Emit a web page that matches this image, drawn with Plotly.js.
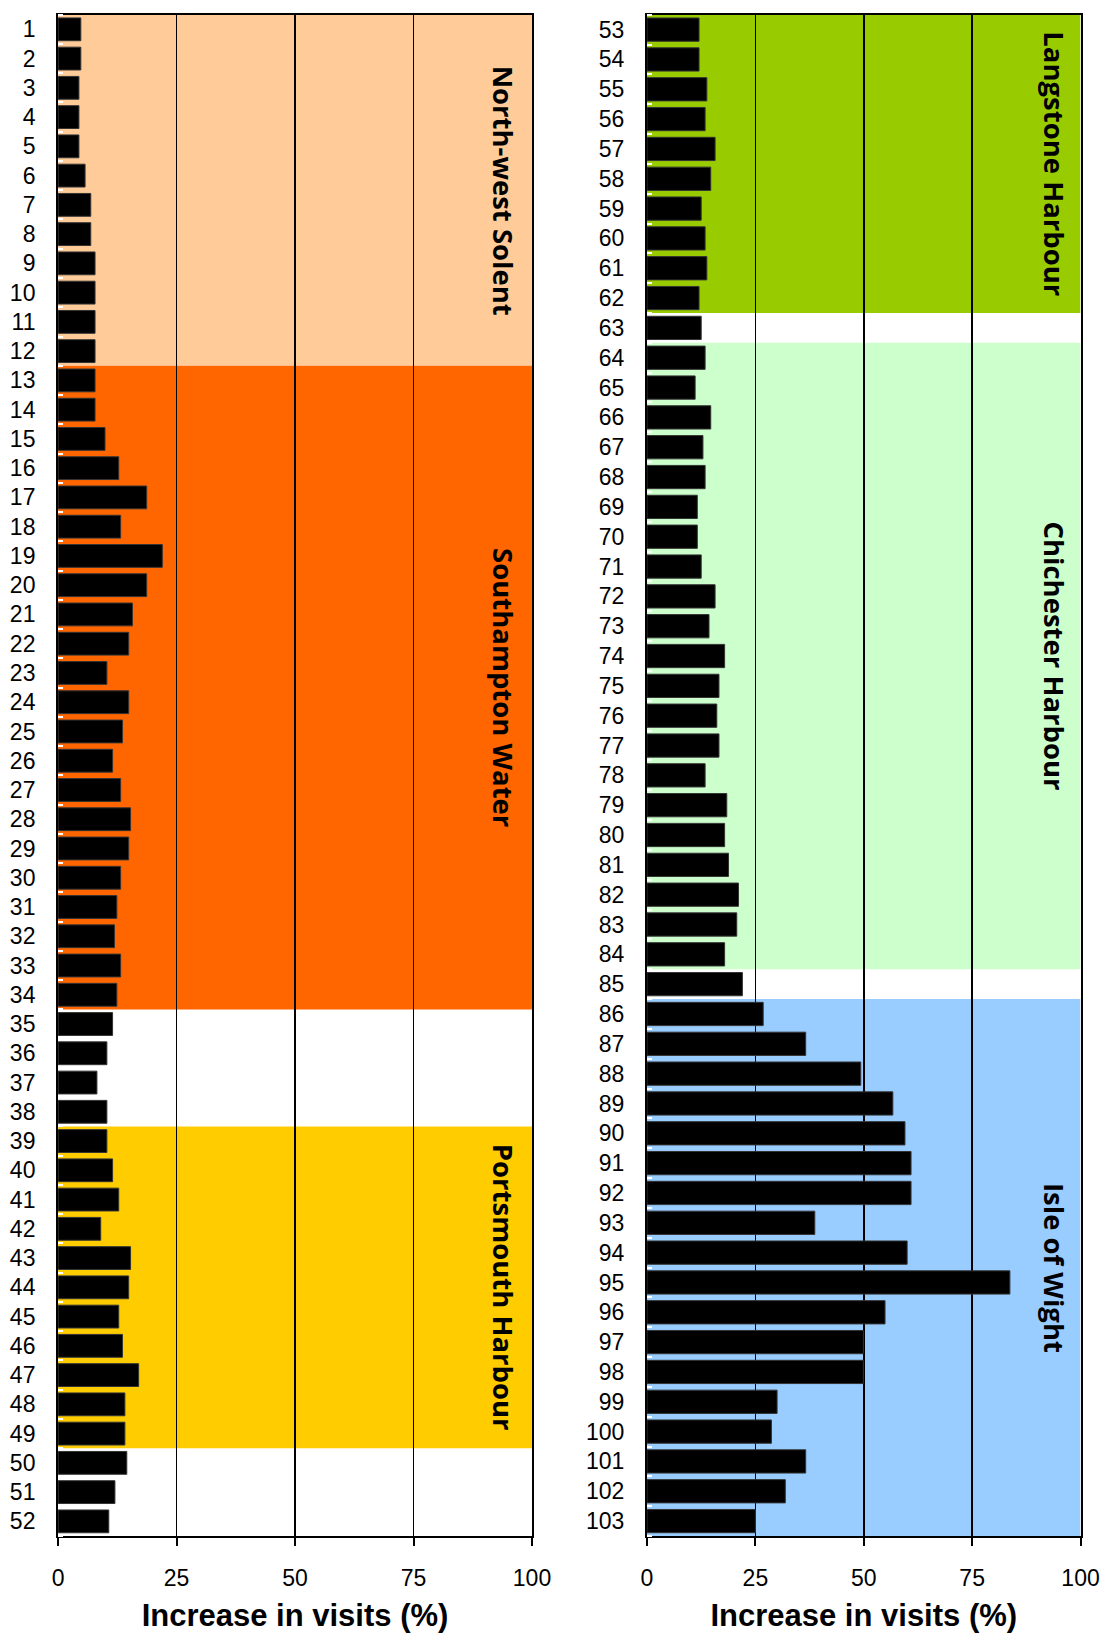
<!DOCTYPE html>
<html><head><meta charset="utf-8">
<script src="https://cdn.plot.ly/plotly-3.0.1.min.js"></script>
<style>html,body{margin:0;padding:0;background:#fff}</style>
</head><body><div id="chart" style="width:1106px;height:1633px"></div>
<script>
// ---- data ----
const leftSites = [1,2,3,4,5,6,7,8,9,10,11,12,13,14,15,16,17,18,19,20,21,22,23,24,25,26,27,28,29,30,31,32,33,34,35,36,37,38,39,40,41,42,43,44,45,46,47,48,49,50,51,52];
const leftValues = [4.8,4.8,4.4,4.4,4.4,5.7,6.9,6.9,7.8,7.8,
  7.8,7.8,7.8,7.8,9.9,12.8,18.7,13.2,22.0,18.7,
  15.7,14.9,10.3,14.9,13.6,11.5,13.2,15.3,14.9,13.2,
  12.4,11.9,13.2,12.4,11.5,10.3,8.2,10.3,10.3,11.5,
  12.8,9.0,15.3,14.9,12.8,13.6,17.0,14.1,14.1,14.5,
  12.0,10.7];
const rightSites = [53,54,55,56,57,58,59,60,61,62,63,64,65,66,67,68,69,70,71,72,73,74,75,76,77,78,79,80,81,82,83,84,85,86,87,88,89,90,91,92,93,94,95,96,97,98,99,100,101,102,103];
const rightValues = [12.0,12.0,13.8,13.4,15.7,14.7,12.5,13.4,13.8,12.0,
  12.5,13.4,11.1,14.7,12.9,13.4,11.6,11.6,12.5,15.7,
  14.3,17.9,16.6,16.1,16.6,13.4,18.4,17.9,18.8,21.1,
  20.7,17.9,22.0,26.8,36.6,49.3,56.7,59.5,60.9,60.9,
  38.7,60.0,83.7,54.9,49.9,49.9,30.0,28.7,36.6,31.9,25.0];
const regionNames = ['North-west Solent','Southampton Water','Portsmouth Harbour','Langstone Harbour','Chichester Harbour','Isle of Wight'];
const regionFirst = [1,13,39,53,64,86];
const regionLast = [12,34,49,62,84,103];
const regionPanel = [1,1,1,2,2,2];
const regionColors = ['#FFCC99','#FF6600','#FFCC00','#99CC00','#CCFFCC','#99CCFF'];
const xTickVals = [0,25,50,75,100];
const xTickText = ['0','25','50','75','100'];
const xTitle = 'Increase in visits (%)';

// ---- chart ----
const tickFont = {family:'Liberation Sans, Arial, sans-serif', size:23, color:'#000'};
const barStyle = {color:'#000', line:{color:'#333', width:1}};

const traces = [
  {type:'bar', orientation:'h', x:leftValues, y:leftSites, marker:barStyle, xaxis:'x', yaxis:'y', hoverinfo:'x+y'},
  {type:'bar', orientation:'h', x:rightValues, y:rightSites, marker:barStyle, xaxis:'x2', yaxis:'y2', hoverinfo:'x+y'}
];

function xAxis(domain, anchor){
  return {domain:domain, anchor:anchor, range:[0,100], tickmode:'array', tickvals:xTickVals, ticktext:xTickText,
    showgrid:true, gridcolor:'#000', gridwidth:1.5, zeroline:false,
    showline:true, mirror:true, linecolor:'#000', linewidth:2,
    ticks:'outside', ticklen:8, tickwidth:2, tickcolor:'#000', ticklabelstandoff:12,
    tickfont:tickFont, automargin:false, fixedrange:true,
    title:{text:xTitle, font:{family:'Liberation Sans, Arial, sans-serif', size:31, color:'#000', weight:'bold'}, standoff:17}};
}
function yAxis(domain, anchor, sites){
  return {domain:domain, anchor:anchor, range:[sites[sites.length-1]+0.5, sites[0]-0.5],
    tickmode:'array', tickvals:sites, ticktext:sites.map(String),
    showgrid:false, zeroline:false, showline:true, mirror:true, linecolor:'#000', linewidth:2,
    ticks:'', ticklabelstandoff:16, tickfont:tickFont, automargin:false, fixedrange:true,
    minor:{ticks:'inside', tickmode:'linear', tick0:0.5, dtick:1, ticklen:5, tickwidth:2, tickcolor:'#fff'}};
}

const yDom = [0.0594, 0.991];
const shapes = [];
const annotations = [];
for (let i = 0; i < regionNames.length; i++) {
  const xr = regionPanel[i] === 1 ? 'x' : 'x2';
  const yr = regionPanel[i] === 1 ? 'y' : 'y2';
  shapes.push({type:'rect', xref:xr, yref:yr, x0:0, x1:100, y0:regionFirst[i]-0.5, y1:regionLast[i]+0.5,
    fillcolor:regionColors[i], line:{width:0}, layer:'below'});
  annotations.push({xref:xr, yref:yr, x:94, y:(regionFirst[i]+regionLast[i])/2, text:regionNames[i],
    showarrow:false, textangle:90, font:{family:'Open Sans, sans-serif', size:27.5, color:'#000', weight:'bold'}});
}

const layout = {
  width:1106, height:1633, margin:{l:0, r:0, t:0, b:0},
  paper_bgcolor:'#fff', plot_bgcolor:'rgba(0,0,0,0)',
  showlegend:false, bargap:0.22,
  xaxis:xAxis([0.0525,0.481],'y'),
  yaxis:yAxis(yDom,'x',leftSites),
  xaxis2:xAxis([0.585,0.977],'y2'),
  yaxis2:yAxis(yDom,'x2',rightSites),
  shapes:shapes, annotations:annotations
};

Plotly.newPlot('chart', traces, layout, {displayModeBar:false, staticPlot:true});
</script></body></html>
